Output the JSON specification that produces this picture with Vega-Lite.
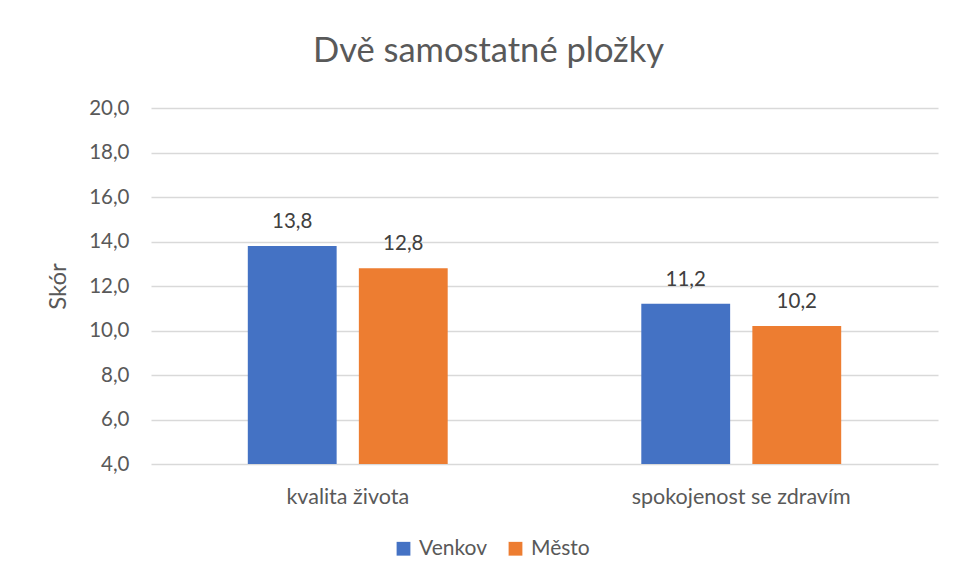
{
  "$schema": "https://vega.github.io/schema/vega-lite/v6.json",
  "width": 787,
  "height": 356,
  "autosize": {"type": "none"},
  "padding": {"left": 151, "top": 108, "right": 17, "bottom": 117},
  "background": "white",
  "config": {
    "locale": {"number": {"decimal": ",", "thousands": " ", "grouping": [3], "currency": ["", " Kč"]}},
    "font": "Lato",
    "view": {"stroke": null},
    "axis": {"labelFont": "Lato", "titleFont": "Lato"}
  },
  "title": {
    "text": "Dvě samostatné pložky",
    "fontSize": 34.5,
    "font": "Lato",
    "fontWeight": "normal",
    "color": "#595959",
    "anchor": "middle",
    "dx": -56,
    "baseline": "alphabetic",
    "offset": 2
  },
  "data": {
    "values": [
      {"kategorie": "kvalita života", "skupina": "Venkov", "skor": 13.8},
      {"kategorie": "kvalita života", "skupina": "Město", "skor": 12.8},
      {"kategorie": "spokojenost se zdravím", "skupina": "Venkov", "skor": 11.2},
      {"kategorie": "spokojenost se zdravím", "skupina": "Město", "skor": 10.2}
    ]
  },
  "encoding": {
    "x": {
      "field": "kategorie",
      "type": "nominal",
      "sort": null,
      "scale": {"paddingInner": 0.492, "paddingOuter": 0.246},
      "axis": {
        "title": null,
        "labelAngle": 0,
        "labelFontSize": 21.5,
        "labelColor": "#595959",
        "labelPadding": 22,
        "labelLimit": 0,
        "ticks": false,
        "domain": false
      }
    },
    "xOffset": {
      "field": "skupina",
      "type": "nominal",
      "sort": ["Venkov", "Město"],
      "scale": {"paddingInner": 0.2, "paddingOuter": 0}
    },
    "y": {
      "field": "skor",
      "type": "quantitative",
      "scale": {"domain": [4, 20], "zero": false, "nice": false},
      "axis": {
        "title": "Skór",
        "titleFontSize": 24,
        "titleFontWeight": "normal",
        "titleColor": "#595959",
        "titlePadding": 18,
        "values": [4, 6, 8, 10, 12, 14, 16, 18, 20],
        "format": ".1f",
        "labelFontSize": 20.5,
        "labelColor": "#595959",
        "labelPadding": 22,
        "ticks": false,
        "domain": false,
        "gridColor": "#D9D9D9",
        "gridWidth": 1.3
      }
    }
  },
  "layer": [
    {
      "mark": {"type": "bar"},
      "encoding": {
        "y2": {"datum": 4},
        "color": {
          "field": "skupina",
          "type": "nominal",
          "sort": ["Venkov", "Město"],
          "scale": {"domain": ["Venkov", "Město"], "range": ["#4472C4", "#ED7D31"]},
          "legend": {
            "title": null,
            "orient": "none",
            "direction": "horizontal",
            "legendX": 242,
            "legendY": 430,
            "symbolType": "square",
            "symbolSize": 190,
            "symbolStrokeWidth": 0,
            "labelFontSize": 21,
            "labelColor": "#595959",
            "labelFont": "Lato",
            "columnPadding": 18,
            "labelOffset": 5
          }
        }
      }
    },
    {
      "mark": {"type": "text", "dy": -24, "fontSize": 20.5, "color": "#404040", "font": "Lato", "baseline": "middle"},
      "encoding": {
        "text": {"field": "skor", "type": "quantitative", "format": ".1f"}
      }
    }
  ]
}
